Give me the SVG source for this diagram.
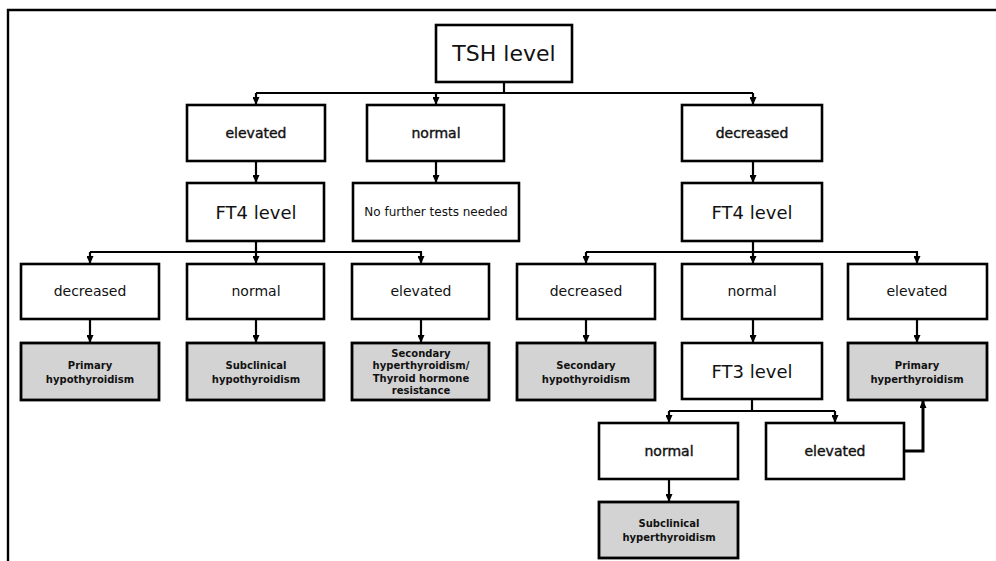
<svg xmlns="http://www.w3.org/2000/svg" width="996" height="561" viewBox="0 0 996 561">
<defs>
<marker id="ah" markerUnits="userSpaceOnUse" markerWidth="8" markerHeight="7" refX="8" refY="3.5" orient="auto">
<path d="M0,0 L8,3.5 L0,7 Z" fill="#000"/>
</marker>
</defs>
<style>
.b{fill:#fff;stroke:#000;stroke-width:2.6}
.g{fill:#d3d3d3;stroke:#000;stroke-width:2.8}
.c{fill:none;stroke:#000;stroke-width:2.2}
text{font-family:"DejaVu Sans","Liberation Sans",sans-serif;text-anchor:middle;dominant-baseline:central;fill:#111}
.t1{font-size:22px}
.t2{font-size:18px}
.t3{font-size:14px}
.t4{font-size:14px;stroke:#111;stroke-width:0.4}
.t5{font-size:10px;font-weight:bold}
.t6{font-size:12px}
</style>
<rect x="0" y="0" width="996" height="561" fill="#fff"/>
<path d="M996,10 H8 V561" fill="none" stroke="#000" stroke-width="2.4"/>

<g id="connectors">
<path class="c" d="M504,82 V93 M256,93 H753"/>
<path class="c" marker-end="url(#ah)" d="M256,93 V105"/>
<path class="c" marker-end="url(#ah)" d="M436,93 V105"/>
<path class="c" marker-end="url(#ah)" d="M753,93 V105"/>
<path class="c" marker-end="url(#ah)" d="M256,161 V183"/>
<path class="c" marker-end="url(#ah)" d="M436,161 V183"/>
<path class="c" marker-end="url(#ah)" d="M753,161 V183"/>
<path class="c" d="M256,241 V252 M90,252 H422"/>
<path class="c" marker-end="url(#ah)" d="M90,252 V264"/>
<path class="c" marker-end="url(#ah)" d="M256,252 V264"/>
<path class="c" marker-end="url(#ah)" d="M421,252 V264"/>
<path class="c" d="M753,241 V252 M586,252 H918"/>
<path class="c" marker-end="url(#ah)" d="M586,252 V264"/>
<path class="c" marker-end="url(#ah)" d="M753,252 V264"/>
<path class="c" marker-end="url(#ah)" d="M917,252 V264"/>
<path class="c" marker-end="url(#ah)" d="M90,319 V343"/>
<path class="c" marker-end="url(#ah)" d="M256,319 V343"/>
<path class="c" marker-end="url(#ah)" d="M421,319 V343"/>
<path class="c" marker-end="url(#ah)" d="M586,319 V343"/>
<path class="c" marker-end="url(#ah)" d="M753,319 V343"/>
<path class="c" marker-end="url(#ah)" d="M917,319 V343"/>
<path class="c" d="M752,399 V411 M669,411 H835"/>
<path class="c" marker-end="url(#ah)" d="M669,411 V423"/>
<path class="c" marker-end="url(#ah)" d="M835,411 V423"/>
<path class="c" marker-end="url(#ah)" d="M669,479 V502"/>
<path class="c" marker-end="url(#ah)" d="M904,451 H923 V400" style="stroke-width:3"/>
</g>

<g id="tsh"><rect class="b" x="436" y="25" width="136" height="57"/><text class="t1" x="504" y="53">TSH level</text></g>

<g id="tsh-elevated"><rect class="b" x="187" y="105" width="138" height="56"/><text class="t4" x="256" y="133">elevated</text></g>
<g id="tsh-normal"><rect class="b" x="367" y="105" width="137" height="56"/><text class="t4" x="436" y="133">normal</text></g>
<g id="tsh-decreased"><rect class="b" x="682" y="105" width="140" height="56"/><text class="t4" x="752" y="133">decreased</text></g>

<g id="ft4-left"><rect class="b" x="187" y="183" width="137" height="58"/><text class="t2" x="256" y="212">FT4 level</text></g>
<g id="no-further"><rect class="b" x="353" y="183" width="166" height="58"/><text class="t6" x="436" y="212">No further tests needed</text></g>
<g id="ft4-right"><rect class="b" x="682" y="183" width="140" height="58"/><text class="t2" x="752" y="212">FT4 level</text></g>

<g id="l-decreased"><rect class="b" x="21" y="264" width="138" height="55"/><text class="t3" x="90" y="291">decreased</text></g>
<g id="l-normal"><rect class="b" x="187" y="264" width="137" height="55"/><text class="t3" x="256" y="291">normal</text></g>
<g id="l-elevated"><rect class="b" x="352" y="264" width="137" height="55"/><text class="t3" x="421" y="291">elevated</text></g>
<g id="r-decreased"><rect class="b" x="517" y="264" width="138" height="55"/><text class="t3" x="586" y="291">decreased</text></g>
<g id="r-normal"><rect class="b" x="682" y="264" width="140" height="55"/><text class="t3" x="752" y="291">normal</text></g>
<g id="r-elevated"><rect class="b" x="848" y="264" width="139" height="55"/><text class="t3" x="917" y="291">elevated</text></g>

<g id="primary-hypo"><rect class="g" x="21" y="343" width="138" height="57"/><text class="t5" x="90" y="365">Primary</text><text class="t5" x="90" y="379">hypothyroidism</text></g>
<g id="subclinical-hypo"><rect class="g" x="187" y="343" width="137" height="57"/><text class="t5" x="256" y="365">Subclinical</text><text class="t5" x="256" y="379">hypothyroidism</text></g>
<g id="secondary-hyper"><rect class="g" x="352" y="343" width="137" height="57"/><text class="t5" x="421" y="353">Secondary</text><text class="t5" x="421" y="365.5">hyperthyroidism/</text><text class="t5" x="421" y="378">Thyroid hormone</text><text class="t5" x="421" y="390.5">resistance</text></g>
<g id="secondary-hypo"><rect class="g" x="517" y="343" width="138" height="57"/><text class="t5" x="586" y="365">Secondary</text><text class="t5" x="586" y="379">hypothyroidism</text></g>
<g id="ft3"><rect class="b" x="682" y="343" width="140" height="56"/><text class="t2" x="752" y="371">FT3 level</text></g>
<g id="primary-hyper"><rect class="g" x="848" y="343" width="139" height="57"/><text class="t5" x="917" y="365">Primary</text><text class="t5" x="917" y="379">hyperthyroidism</text></g>

<g id="ft3-normal"><rect class="b" x="599" y="423" width="139" height="56"/><text class="t4" x="669" y="451">normal</text></g>
<g id="ft3-elevated"><rect class="b" x="766" y="423" width="138" height="56"/><text class="t4" x="835" y="451">elevated</text></g>

<g id="subclinical-hyper"><rect class="g" x="599" y="502" width="139" height="56"/><text class="t5" x="669" y="523">Subclinical</text><text class="t5" x="669" y="537">hyperthyroidism</text></g>
</svg>
